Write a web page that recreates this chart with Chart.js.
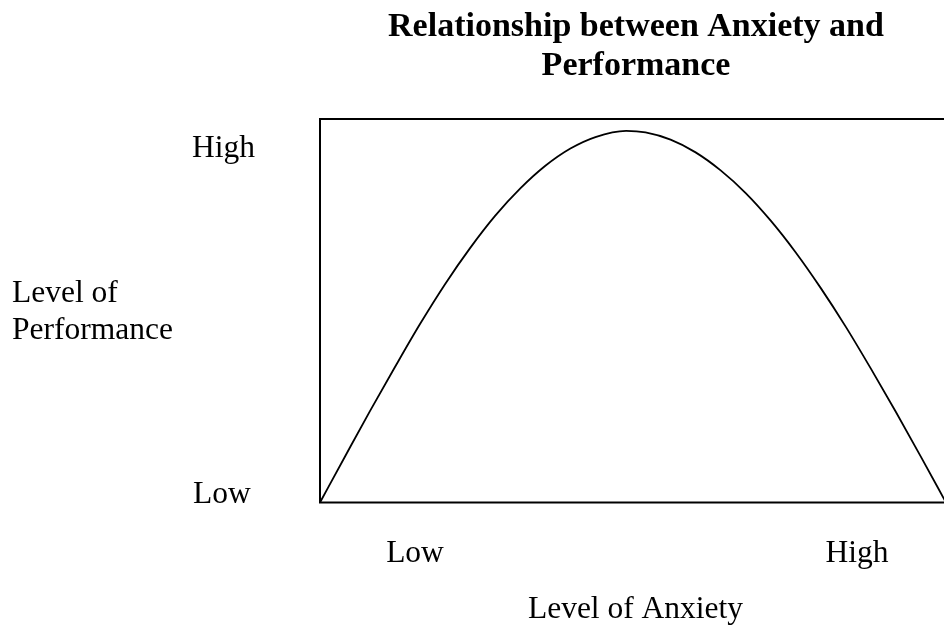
<!DOCTYPE html>
<html>
<head>
<meta charset="utf-8">
<title>Relationship between Anxiety and Performance</title>
<script src="https://cdn.jsdelivr.net/npm/chart.js@4/dist/chart.umd.min.js"></script>
<style>
  html, body { margin: 0; padding: 0; background: #fff; overflow: hidden; }
  #wrap { width: 952px; height: 625px; }
</style>
</head>
<body>
<div id="wrap"><canvas id="chart" width="952" height="625"></canvas></div>
<script>
// ── Data ──────────────────────────────────────────────
const titleLines   = ["Relationship between Anxiety and", "Performance"];
const xAxisTitle   = "Level of Anxiety";
const yAxisTitle   = ["Level of", "Performance"];
const xTickLabels  = ["Low", "High"];
const yTickLabels  = ["Low", "High"];

// anxiety (0–100) vs performance (0–100)
const anxiety     = [0, 4, 8, 12, 16, 20, 24, 28, 32, 36, 40, 44, 48.9,
                     52, 56, 60, 64, 68, 72, 76, 80, 84, 88, 92, 96, 100];
const performance = [0, 12.0, 23.9, 35.4, 46.6, 57.0, 66.4, 74.8, 81.9, 87.8, 92.3, 95.3, 96.9,
                     96.5, 94.6, 91.3, 86.6, 80.7, 73.5, 65.2, 55.9, 45.8, 34.9, 23.6, 11.9, 0];

// ── Text + frame plugin ───────────────────────────────
const SERIF = "'Liberation Serif', 'Times New Roman', serif";

const frameAndText = {
  id: "frameAndText",
  afterDraw(chart) {
    const { ctx, chartArea: a } = chart;
    ctx.save();

    // box around plot area
    ctx.strokeStyle = "#000";
    ctx.lineWidth = 2;
    ctx.strokeRect(a.left, a.top, a.right - a.left, a.bottom - a.top);

    ctx.fillStyle = "#000";
    ctx.textBaseline = "alphabetic";

    // title
    ctx.font = "bold 34px " + SERIF;
    ctx.textAlign = "center";
    const cx = (a.left + a.right) / 2 + 3;
    ctx.fillText(titleLines[0], cx, 36);
    ctx.fillText(titleLines[1], cx, 75);

    ctx.font = "31.5px " + SERIF;

    // y tick labels
    ctx.textAlign = "left";
    ctx.fillText(yTickLabels[1], a.left - 128, a.top + 38);
    ctx.fillText(yTickLabels[0], a.left - 127, a.bottom + 0.5);

    // y axis title
    ctx.fillText(yAxisTitle[0], 12, 302);
    ctx.fillText(yAxisTitle[1], 12, 339);

    // x tick labels
    ctx.textAlign = "center";
    ctx.fillText(xTickLabels[0], a.left + 95, a.bottom + 59.5);
    ctx.fillText(xTickLabels[1], a.left + 537, a.bottom + 59.5);

    // x axis title
    ctx.fillText(xAxisTitle, a.left + 315.5, a.bottom + 115.5);

    ctx.restore();
  },
};

new Chart(document.getElementById("chart"), {
  type: "line",
  data: {
    datasets: [{
      data: anxiety.map((x, i) => ({ x, y: performance[i] })),
      borderColor: "#000",
      borderWidth: 1.8,
      pointRadius: 0,
      fill: false,
      cubicInterpolationMode: "monotone",
    }],
  },
  options: {
    responsive: false,
    animation: false,
    events: [],
    layout: { padding: { left: 320, top: 119, right: 6, bottom: 122.5 } },
    plugins: { legend: { display: false }, tooltip: { enabled: false } },
    scales: {
      x: { type: "linear", min: 0, max: 100, display: false },
      y: { type: "linear", min: 0, max: 100, display: false },
    },
  },
  plugins: [frameAndText],
});
</script>
</body>
</html>
